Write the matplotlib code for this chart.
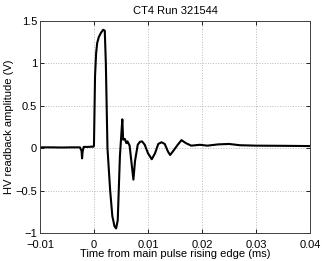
import matplotlib
matplotlib.use("Agg")
import matplotlib.pyplot as plt

# HV readback trace (time in ms, amplitude in V)
t = [-0.0100, -0.0080, -0.0060, -0.0040, -0.0026, -0.0023, -0.0022, -0.0021,
     -0.0019, -0.0012, -0.0004, -0.0001, 0.0000, 0.0002, 0.0004, 0.0006,
     0.0009, 0.0013, 0.0017, 0.0020, 0.0022, 0.0025, 0.0030, 0.0034,
     0.0038, 0.0041, 0.0044, 0.0048, 0.0051, 0.00525, 0.0054, 0.0057,
     0.0060, 0.0062, 0.0066, 0.0070, 0.0073, 0.0076, 0.0081, 0.0085,
     0.0089, 0.0094, 0.0100, 0.0107, 0.0113, 0.0119, 0.0125, 0.0131,
     0.0137, 0.0141, 0.0147, 0.0155, 0.0162, 0.0170, 0.0180, 0.0196,
     0.0210, 0.0230, 0.0250, 0.0270, 0.0300, 0.0350, 0.0400]
v = [0.010, 0.010, 0.008, 0.010, 0.010, -0.030, -0.120, -0.040,
     0.015, 0.015, 0.018, 0.018, 0.030, 0.850, 1.120, 1.240,
     1.310, 1.360, 1.395, 1.385, 1.000, 0.000, -0.500, -0.800,
     -0.920, -0.945, -0.850, -0.100, 0.200, 0.340, 0.100, 0.110,
     0.060, 0.080, 0.030, -0.200, -0.370, -0.150, 0.040, 0.075,
     0.080, 0.040, -0.060, -0.130, -0.060, 0.050, 0.070, 0.050,
     -0.040, -0.080, -0.030, 0.040, 0.095, 0.060, 0.030, 0.040,
     0.030, 0.045, 0.050, 0.035, 0.030, 0.028, 0.025]

xticks = [-0.01, 0, 0.01, 0.02, 0.03, 0.04]
xlabels = ["\u22120.01", "0", "0.01", "0.02", "0.03", "0.04"]
yticks = [-1, -0.5, 0, 0.5, 1, 1.5]
ylabels = ["\u22121", "\u22120.5", "0", "0.5", "1", "1.5"]

plt.rcParams["font.family"] = ["Liberation Sans", "DejaVu Sans"]
plt.rcParams["font.size"] = 8

fig = plt.figure(figsize=(3.22, 2.61), dpi=100)
ax = fig.add_axes([0.124, 0.107, 0.839, 0.813])

ax.plot(t, v, color="black", linewidth=1.5)

ax.set_xlim(-0.01, 0.04)
ax.set_ylim(-1, 1.5)
ax.set_xticks(xticks)
ax.set_xticklabels(xlabels)
ax.set_yticks(yticks)
ax.set_yticklabels(ylabels)
ax.tick_params(direction="in", length=3, width=0.6, top=True, right=True, pad=2)
ax.tick_params(axis="x", pad=5)
ax.grid(True, linestyle=":", color="#b8b8b8", linewidth=0.7)
for s in ax.spines.values():
    s.set_linewidth(0.7)
    s.set_color("#404040")

ax.set_title("CT4 Run 321544", fontsize=8, pad=5)
ax.set_xlabel("Time from main pulse rising edge (ms)", labelpad=-1)
ax.set_ylabel("HV readback amplitude (V)", labelpad=1)

fig.savefig("out.png", dpi=100)
